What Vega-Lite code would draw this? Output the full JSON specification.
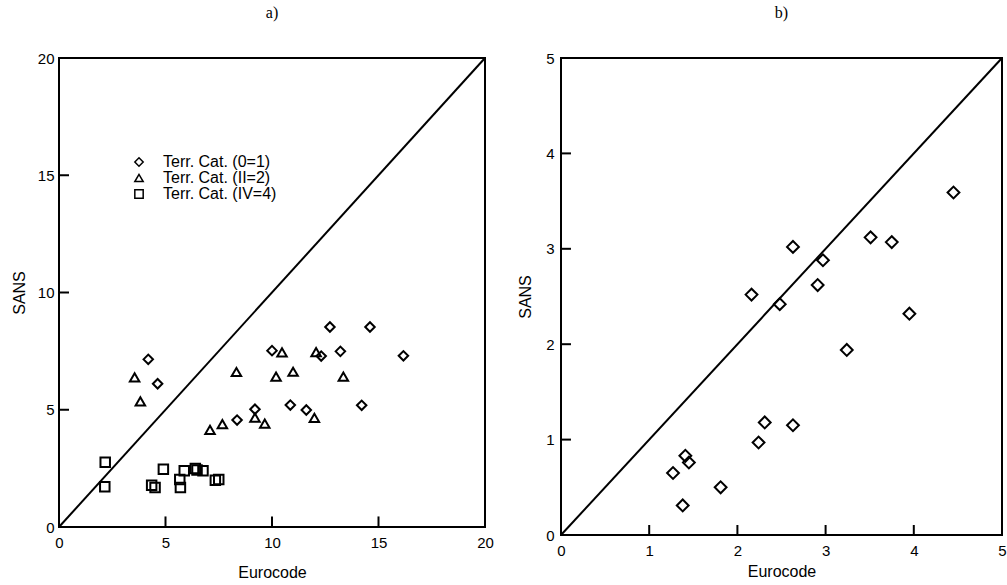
{
  "$schema": "https://vega.github.io/schema/vega-lite/v6.json",
  "background": "white",
  "padding": {"left": 10, "top": 4, "right": 5, "bottom": 5},
  "spacing": 21,
  "config": {
    "font": "Liberation Sans",
    "view": {"stroke": "black", "strokeWidth": 2},
    "axis": {
      "domain": false, "ticks": false,
      "labelColor": "black", "labelFontSize": 15, "labelFont": "Liberation Sans",
      "titleColor": "black", "titleFontSize": 16, "titleFontWeight": "normal", "titleFont": "Liberation Sans",
      "grid": false, "labelFlush": false
    },
    "title": {"font": "Liberation Serif", "fontSize": 16, "fontWeight": "normal", "color": "black", "anchor": "middle"}
  },
  "datasets": {
    "diagA": [{"e": 0, "s": 0}, {"e": 20, "s": 20}],
    "diagB": [{"e": 0, "s": 0}, {"e": 5, "s": 5}],
    "ticksA": [{"t": 5}, {"t": 10}, {"t": 15}],
    "ticksB": [{"t": 1}, {"t": 2}, {"t": 3}, {"t": 4}],
    "pointsA": [
      {"e": 4.19, "s": 7.15, "cat": "Terr. Cat. (0=1)"},
      {"e": 4.63, "s": 6.11, "cat": "Terr. Cat. (0=1)"},
      {"e": 8.36, "s": 4.56, "cat": "Terr. Cat. (0=1)"},
      {"e": 9.2, "s": 5.02, "cat": "Terr. Cat. (0=1)"},
      {"e": 10.0, "s": 7.52, "cat": "Terr. Cat. (0=1)"},
      {"e": 10.86, "s": 5.2, "cat": "Terr. Cat. (0=1)"},
      {"e": 11.61, "s": 4.99, "cat": "Terr. Cat. (0=1)"},
      {"e": 12.31, "s": 7.29, "cat": "Terr. Cat. (0=1)"},
      {"e": 12.72, "s": 8.53, "cat": "Terr. Cat. (0=1)"},
      {"e": 13.21, "s": 7.49, "cat": "Terr. Cat. (0=1)"},
      {"e": 14.21, "s": 5.19, "cat": "Terr. Cat. (0=1)"},
      {"e": 14.6, "s": 8.53, "cat": "Terr. Cat. (0=1)"},
      {"e": 16.17, "s": 7.3, "cat": "Terr. Cat. (0=1)"},
      {"e": 3.55, "s": 6.38, "cat": "Terr. Cat. (II=2)"},
      {"e": 3.82, "s": 5.36, "cat": "Terr. Cat. (II=2)"},
      {"e": 7.09, "s": 4.14, "cat": "Terr. Cat. (II=2)"},
      {"e": 7.67, "s": 4.39, "cat": "Terr. Cat. (II=2)"},
      {"e": 8.33, "s": 6.61, "cat": "Terr. Cat. (II=2)"},
      {"e": 9.2, "s": 4.66, "cat": "Terr. Cat. (II=2)"},
      {"e": 9.66, "s": 4.41, "cat": "Terr. Cat. (II=2)"},
      {"e": 10.19, "s": 6.41, "cat": "Terr. Cat. (II=2)"},
      {"e": 10.47, "s": 7.45, "cat": "Terr. Cat. (II=2)"},
      {"e": 10.99, "s": 6.62, "cat": "Terr. Cat. (II=2)"},
      {"e": 11.99, "s": 4.65, "cat": "Terr. Cat. (II=2)"},
      {"e": 12.07, "s": 7.46, "cat": "Terr. Cat. (II=2)"},
      {"e": 13.35, "s": 6.41, "cat": "Terr. Cat. (II=2)"},
      {"e": 2.17, "s": 2.76, "cat": "Terr. Cat. (IV=4)"},
      {"e": 2.15, "s": 1.72, "cat": "Terr. Cat. (IV=4)"},
      {"e": 4.9, "s": 2.46, "cat": "Terr. Cat. (IV=4)"},
      {"e": 4.35, "s": 1.78, "cat": "Terr. Cat. (IV=4)"},
      {"e": 4.51, "s": 1.68, "cat": "Terr. Cat. (IV=4)"},
      {"e": 5.67, "s": 2.03, "cat": "Terr. Cat. (IV=4)"},
      {"e": 5.7, "s": 1.68, "cat": "Terr. Cat. (IV=4)"},
      {"e": 5.88, "s": 2.4, "cat": "Terr. Cat. (IV=4)"},
      {"e": 6.4, "s": 2.49, "cat": "Terr. Cat. (IV=4)"},
      {"e": 6.48, "s": 2.43, "cat": "Terr. Cat. (IV=4)"},
      {"e": 6.76, "s": 2.4, "cat": "Terr. Cat. (IV=4)"},
      {"e": 7.34, "s": 1.99, "cat": "Terr. Cat. (IV=4)"},
      {"e": 7.5, "s": 2.03, "cat": "Terr. Cat. (IV=4)"}
    ],
    "pointsB": [
      {"e": 1.27, "s": 0.65}, {"e": 1.38, "s": 0.31}, {"e": 1.41, "s": 0.83},
      {"e": 1.45, "s": 0.76}, {"e": 1.81, "s": 0.5}, {"e": 2.24, "s": 0.97},
      {"e": 2.31, "s": 1.18}, {"e": 2.63, "s": 1.15}, {"e": 2.16, "s": 2.52},
      {"e": 2.48, "s": 2.42}, {"e": 2.63, "s": 3.02}, {"e": 2.91, "s": 2.62},
      {"e": 2.97, "s": 2.88}, {"e": 3.24, "s": 1.94}, {"e": 3.51, "s": 3.12},
      {"e": 3.75, "s": 3.07}, {"e": 3.95, "s": 2.32}, {"e": 4.45, "s": 3.59}
    ]
  },
  "hconcat": [
    {
      "width": 426,
      "height": 469,
      "title": {"text": "a)", "offset": 30},
      "layer": [
        {
          "data": {"name": "diagA"},
          "mark": {"type": "line", "color": "black", "strokeWidth": 2},
          "encoding": {
            "x": {"field": "e", "type": "quantitative", "scale": {"domain": [0, 20]},
                  "axis": {"title": "Eurocode", "values": [0, 5, 10, 15, 20], "format": "d", "labelPadding": 8, "titlePadding": 14}},
            "y": {"field": "s", "type": "quantitative", "scale": {"domain": [0, 20]},
                  "axis": {"title": "SANS", "values": [0, 5, 10, 15, 20], "format": "d", "labelPadding": 5, "titlePadding": 10}}
          }
        },
        {
          "data": {"name": "ticksA"},
          "mark": {"type": "rule", "color": "black", "strokeWidth": 2},
          "encoding": {
            "x": {"field": "t", "type": "quantitative"},
            "y": {"datum": 0},
            "y2": {"datum": 0.45}
          }
        },
        {
          "data": {"name": "ticksA"},
          "mark": {"type": "rule", "color": "black", "strokeWidth": 2},
          "encoding": {
            "y": {"field": "t", "type": "quantitative"},
            "x": {"datum": 0},
            "x2": {"datum": 0.47}
          }
        },
        {
          "data": {"name": "pointsA"},
          "mark": {"type": "point", "filled": false, "color": "black", "strokeWidth": 2, "size": 90, "opacity": 1},
          "encoding": {
            "x": {"field": "e", "type": "quantitative"},
            "y": {"field": "s", "type": "quantitative"},
            "shape": {
              "field": "cat", "type": "nominal",
              "scale": {"domain": ["Terr. Cat. (0=1)", "Terr. Cat. (II=2)", "Terr. Cat. (IV=4)"], "range": ["diamond", "triangle-up", "square"]},
              "legend": {
                "title": null, "orient": "none", "legendX": 72, "legendY": 96,
                "labelFontSize": 16, "labelFont": "Liberation Sans", "labelColor": "black",
                "symbolStrokeColor": "black", "symbolFillColor": "transparent", "symbolStrokeWidth": 1.5,
                "symbolSize": 70, "labelOffset": 16, "rowPadding": 0, "padding": 0, "symbolOpacity": 1
              }
            }
          }
        }
      ]
    },
    {
      "width": 441,
      "height": 477,
      "title": {"text": "b)", "offset": 30},
      "layer": [
        {
          "data": {"name": "diagB"},
          "mark": {"type": "line", "color": "black", "strokeWidth": 2},
          "encoding": {
            "x": {"field": "e", "type": "quantitative", "scale": {"domain": [0, 5]},
                  "axis": {"title": "Eurocode", "values": [0, 1, 2, 3, 4, 5], "format": "d", "labelPadding": 8, "titlePadding": 5}},
            "y": {"field": "s", "type": "quantitative", "scale": {"domain": [0, 5]},
                  "axis": {"title": "SANS", "values": [0, 1, 2, 3, 4, 5], "format": "d", "labelPadding": 7, "titlePadding": 12}}
          }
        },
        {
          "data": {"name": "ticksB"},
          "mark": {"type": "rule", "color": "black", "strokeWidth": 2},
          "encoding": {
            "x": {"field": "t", "type": "quantitative"},
            "y": {"datum": 0},
            "y2": {"datum": 0.105}
          }
        },
        {
          "data": {"name": "ticksB"},
          "mark": {"type": "rule", "color": "black", "strokeWidth": 2},
          "encoding": {
            "y": {"field": "t", "type": "quantitative"},
            "x": {"datum": 0},
            "x2": {"datum": 0.113}
          }
        },
        {
          "data": {"name": "pointsB"},
          "mark": {"type": "point", "shape": "diamond", "filled": false, "color": "black", "strokeWidth": 2, "size": 140, "opacity": 1},
          "encoding": {
            "x": {"field": "e", "type": "quantitative"},
            "y": {"field": "s", "type": "quantitative"}
          }
        }
      ]
    }
  ]
}
